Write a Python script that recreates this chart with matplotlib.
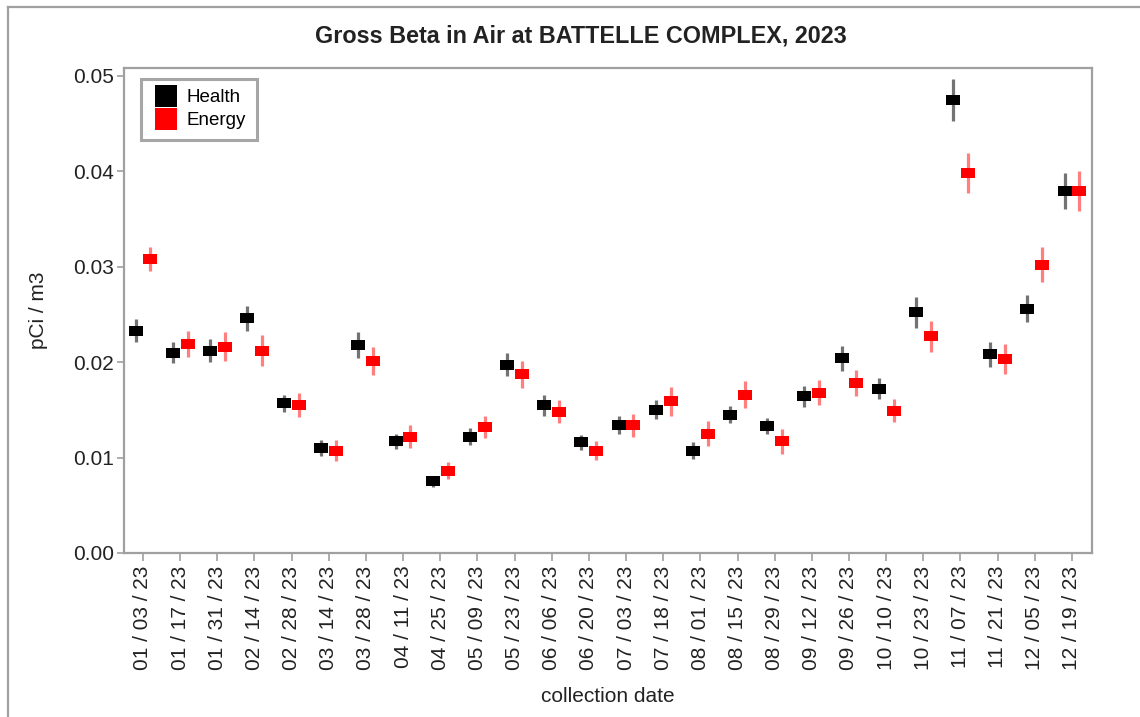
import numpy as np
import matplotlib
matplotlib.use('Agg')
import matplotlib.pyplot as plt
from matplotlib.lines import Line2D

plt.rcParams['font.family'] = ['Liberation Sans', 'DejaVu Sans']

# 采样日期
dates = ['01 / 03 / 23', '01 / 17 / 23', '01 / 31 / 23', '02 / 14 / 23', '02 / 28 / 23',
         '03 / 14 / 23', '03 / 28 / 23', '04 / 11 / 23', '04 / 25 / 23', '05 / 09 / 23',
         '05 / 23 / 23', '06 / 06 / 23', '06 / 20 / 23', '07 / 03 / 23', '07 / 18 / 23',
         '08 / 01 / 23', '08 / 15 / 23', '08 / 29 / 23', '09 / 12 / 23', '09 / 26 / 23',
         '10 / 10 / 23', '10 / 23 / 23', '11 / 07 / 23', '11 / 21 / 23', '12 / 05 / 23',
         '12 / 19 / 23']

health = [0.0233, 0.0210, 0.0212, 0.0246, 0.0157, 0.0110, 0.0218, 0.0117, 0.0075, 0.0122,
          0.0197, 0.0155, 0.0116, 0.0134, 0.0150, 0.0107, 0.0145, 0.0133, 0.0164, 0.0204,
          0.0172, 0.0252, 0.0474, 0.0208, 0.0256, 0.0379]
health_err = [0.0012, 0.0011, 0.0012, 0.0013, 0.0009, 0.0008, 0.0014, 0.0008, 0.0006, 0.0009,
              0.0012, 0.0011, 0.0008, 0.0009, 0.0010, 0.0009, 0.0009, 0.0008, 0.0011, 0.0013,
              0.0011, 0.0016, 0.0022, 0.0013, 0.0014, 0.0019]

energy = [0.0308, 0.0219, 0.0216, 0.0212, 0.0155, 0.0107, 0.0201, 0.0122, 0.0086, 0.0132,
          0.0187, 0.0148, 0.0107, 0.0134, 0.0159, 0.0125, 0.0166, 0.0117, 0.0168, 0.0178,
          0.0149, 0.0227, 0.0398, 0.0203, 0.0302, 0.0379]
energy_err = [0.0013, 0.0014, 0.0015, 0.0016, 0.0013, 0.0011, 0.0015, 0.0012, 0.0009, 0.0012,
              0.0014, 0.0012, 0.0010, 0.0012, 0.0015, 0.0013, 0.0014, 0.0013, 0.0013, 0.0014,
              0.0012, 0.0016, 0.0021, 0.0016, 0.0018, 0.0021]

x = np.arange(len(dates))
off = 0.2
rect = [(-1.4, -1), (1.4, -1), (1.4, 1), (-1.4, 1), (-1.4, -1)]
grey = '#a0a0a0'

fig = plt.figure(figsize=(11.4, 7.17), dpi=100)
ax = fig.add_axes([124 / 1140, 1 - 553 / 717, 968 / 1140, 485 / 717])

ax.vlines(x - off, np.array(health) - health_err, np.array(health) + health_err,
          color='black', alpha=0.55, lw=2.3, zorder=2)
ax.vlines(x + off, np.array(energy) - energy_err, np.array(energy) + energy_err,
          color='red', alpha=0.5, lw=2.3, zorder=2)
ax.plot(x - off, health, ls='none', marker=rect, ms=10.5, color='black', mew=0, zorder=3)
ax.plot(x + off, energy, ls='none', marker=rect, ms=10.5, color='red', mew=0, zorder=3)

ax.set_xlim(-0.51, 25.54)
ax.set_ylim(0, 0.0508)
ax.set_yticks([0, 0.01, 0.02, 0.03, 0.04, 0.05])
ax.set_yticklabels(['0.00', '0.01', '0.02', '0.03', '0.04', '0.05'])
ax.set_xticks(x)
ax.set_xticklabels(dates, rotation=90)

for s in ax.spines.values():
    s.set_color(grey)
    s.set_linewidth(1.6)
ax.tick_params(axis='y', length=5, width=1.2, color=grey, labelsize=15, labelcolor='#222222', pad=2)
ax.tick_params(axis='x', length=6, width=1.2, color=grey, labelsize=15, labelcolor='#222222', pad=3)

fig.text(581 / 1140, 1 - 36 / 717, 'Gross Beta in Air at BATTELLE COMPLEX, 2023', fontsize=16.8,
         fontweight='bold', color='#222222', ha='center', va='center')
ax.set_xlabel('collection date', fontsize=15, color='#222222', labelpad=12)
ax.set_ylabel('pCi / m3', fontsize=15, color='#222222', labelpad=18)

handles = [Line2D([], [], ls='none', marker='s', ms=16, color='black', mew=0),
           Line2D([], [], ls='none', marker='s', ms=16, color='red', mew=0)]
leg = ax.legend(handles, ['Health', 'Energy'], loc='upper left', bbox_to_anchor=(0.0175, 0.978),
                fontsize=13.5, frameon=True, fancybox=False, borderpad=0.55, labelspacing=0.33,
                handletextpad=0.3, handlelength=1.6, borderaxespad=0)
leg.get_frame().set_edgecolor('#909090')
leg.get_frame().set_linewidth(2.2)

# 外框
fig.add_artist(Line2D([8 / 1140, 8 / 1140], [0, 1 - 7 / 717], color=grey, lw=1.6))
fig.add_artist(Line2D([8 / 1140, 1], [1 - 7 / 717, 1 - 7 / 717], color=grey, lw=1.6))

fig.savefig('out.png', dpi=100)
